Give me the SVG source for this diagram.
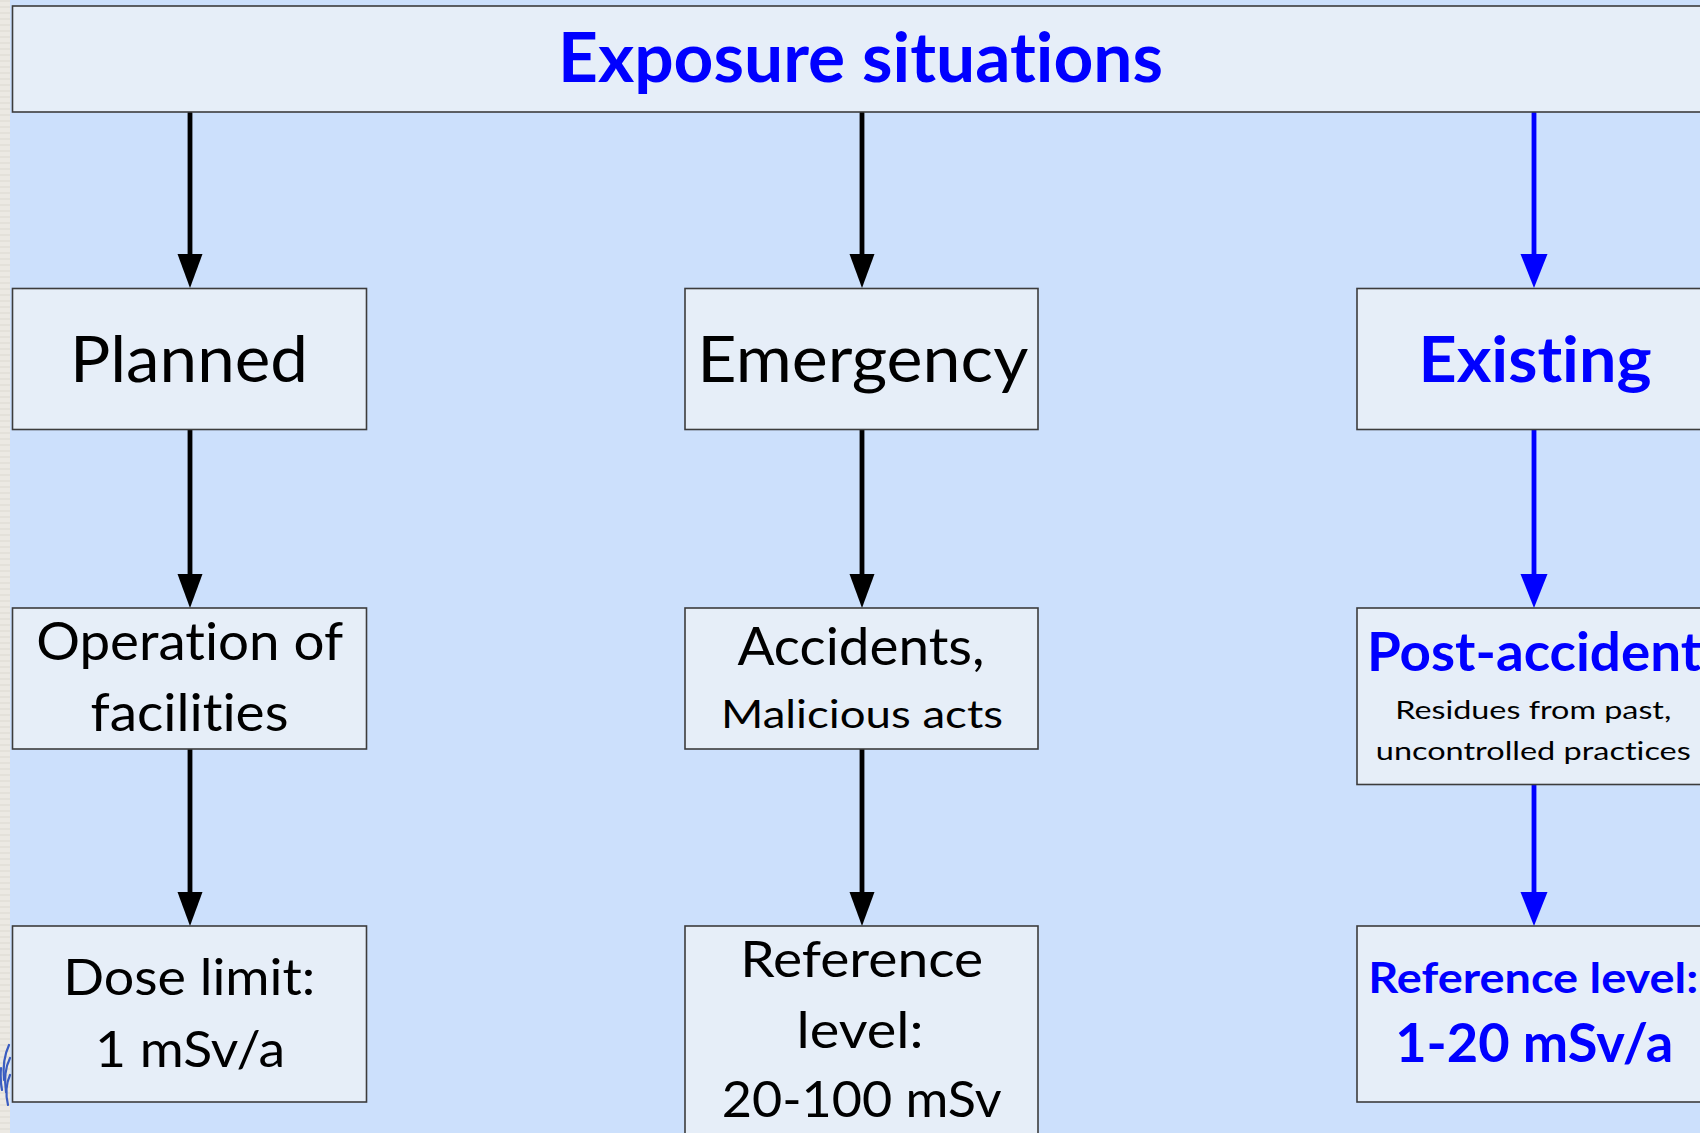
<svg xmlns="http://www.w3.org/2000/svg" width="1700" height="1133" viewBox="0 0 1700 1133">
  <style>
    .box { fill: #e6eef8; stroke: #3c3c3c; stroke-width: 1.6; }
    .t { font-family: Lato, "Open Sans", "Liberation Sans", sans-serif; text-anchor: middle; font-variant-ligatures: none; font-feature-settings: "liga" 0, "clig" 0, "dlig" 0; }
    .blk { fill: #000000; font-weight: 400; }
    .blu { fill: #0000ff; font-weight: 700; }
    .cb { stroke: #000000; stroke-width: 4.8; stroke-linecap: round; fill: none; }
    .cu { stroke: #0000ff; stroke-width: 4.8; stroke-linecap: round; fill: none; }
  </style>
  <defs>
    <marker id="ahB" markerUnits="userSpaceOnUse" markerWidth="35" markerHeight="26" viewBox="0 0 35 26" refX="14" refY="13" orient="auto">
      <path d="M0,0.5 L34,13 L0,25.5 Z" fill="#000000"/>
    </marker>
    <marker id="ahU" markerUnits="userSpaceOnUse" markerWidth="35" markerHeight="28" viewBox="0 0 35 28" refX="14" refY="14" orient="auto">
      <path d="M0,0.5 L34,14 L0,27.5 Z" fill="#0000ff"/>
    </marker>
    <pattern id="strip" width="10" height="6" patternUnits="userSpaceOnUse">
      <rect width="10" height="6" fill="#ece9e3"/>
      <rect y="0" width="10" height="2" fill="#e4e1da"/>
    </pattern>
  </defs>

  <!-- background -->
  <rect x="0" y="0" width="1700" height="1133" fill="#cce0fc"/>
  <rect x="0" y="0" width="10" height="1133" fill="url(#strip)"/>
  <g id="logo-fragment" fill="none" stroke="#3a5cc0" stroke-width="2.2" stroke-linecap="round">
    <path d="M9,1045 Q2,1060 4,1080"/>
    <path d="M10,1058 Q3,1072 6,1092"/>
    <path d="M10,1075 Q4,1088 8,1105"/>
    <path d="M1,1068 Q0,1080 2,1090"/>
  </g>

  <!-- connectors -->
  <g id="connectors">
    <line class="cb" x1="190" y1="113" x2="190" y2="268" marker-end="url(#ahB)"/>
    <line class="cb" x1="862" y1="113" x2="862" y2="268" marker-end="url(#ahB)"/>
    <line class="cu" x1="1534" y1="113" x2="1534" y2="268" marker-end="url(#ahU)"/>

    <line class="cb" x1="190" y1="430" x2="190" y2="588" marker-end="url(#ahB)"/>
    <line class="cb" x1="862" y1="430" x2="862" y2="588" marker-end="url(#ahB)"/>
    <line class="cu" x1="1534" y1="430" x2="1534" y2="588" marker-end="url(#ahU)"/>

    <line class="cb" x1="190" y1="749" x2="190" y2="906" marker-end="url(#ahB)"/>
    <line class="cb" x1="862" y1="749" x2="862" y2="906" marker-end="url(#ahB)"/>
    <line class="cu" x1="1534" y1="785" x2="1534" y2="906" marker-end="url(#ahU)"/>
  </g>

  <!-- title -->
  <g id="node-exposure-situations">
    <rect class="box" x="12.5" y="6" width="1700" height="106"/>
    <text class="t blu" x="860.5" y="82" font-size="68" textLength="605" lengthAdjust="spacingAndGlyphs">Exposure situations</text>
  </g>

  <!-- row 1 -->
  <g id="node-planned">
    <rect class="box" x="12.5" y="288.5" width="354" height="141"/>
    <text class="t blk" x="189" y="381.5" font-size="64" textLength="238" lengthAdjust="spacingAndGlyphs">Planned</text>
  </g>
  <g id="node-emergency">
    <rect class="box" x="685" y="288.5" width="353" height="141"/>
    <text class="t blk" x="862.8" y="381.5" font-size="64" textLength="331" lengthAdjust="spacingAndGlyphs">Emergency</text>
  </g>
  <g id="node-existing">
    <rect class="box" x="1357" y="288.5" width="360" height="141"/>
    <text class="t blu" x="1535" y="381.5" font-size="64" textLength="233" lengthAdjust="spacingAndGlyphs">Existing</text>
  </g>

  <!-- row 2 -->
  <g id="node-operation">
    <rect class="box" x="12.5" y="608" width="354" height="141"/>
    <text class="t blk" x="189.7" y="660" font-size="53" textLength="307" lengthAdjust="spacingAndGlyphs">Operation of</text>
    <text class="t blk" x="189.5" y="730.7" font-size="53" textLength="198" lengthAdjust="spacingAndGlyphs">facilities</text>
  </g>
  <g id="node-accidents">
    <rect class="box" x="685" y="608" width="353" height="141"/>
    <text class="t blk" x="861" y="665" font-size="53" textLength="247" lengthAdjust="spacingAndGlyphs">Accidents,</text>
    <text class="t blk" x="862" y="728.3" font-size="38" textLength="282" lengthAdjust="spacingAndGlyphs">Malicious acts</text>
  </g>
  <g id="node-post-accident">
    <rect class="box" x="1357" y="608" width="360" height="176.5"/>
    <text class="t blu" x="1534" y="670.7" font-size="53" textLength="334" lengthAdjust="spacingAndGlyphs">Post-accident</text>
    <text class="t blk" x="1533.3" y="719.3" font-size="25.5" textLength="276" lengthAdjust="spacingAndGlyphs">Residues from past,</text>
    <text class="t blk" x="1533.3" y="760" font-size="25.5" textLength="315" lengthAdjust="spacingAndGlyphs">uncontrolled practices</text>
  </g>

  <!-- row 3 -->
  <g id="node-dose-limit">
    <rect class="box" x="12.5" y="926" width="354" height="176"/>
    <text class="t blk" x="189.2" y="995" font-size="51" textLength="252" lengthAdjust="spacingAndGlyphs">Dose limit:</text>
    <text class="t blk" x="190" y="1066.7" font-size="51" textLength="190" lengthAdjust="spacingAndGlyphs">1 mSv/a</text>
  </g>
  <g id="node-reference-emergency">
    <rect class="box" x="685" y="926" width="353" height="230"/>
    <text class="t blk" x="861.7" y="976.7" font-size="50" textLength="243" lengthAdjust="spacingAndGlyphs">Reference</text>
    <text class="t blk" x="860" y="1048.3" font-size="50" textLength="127" lengthAdjust="spacingAndGlyphs">level:</text>
    <text class="t blk" x="861.7" y="1116.7" font-size="50" textLength="280" lengthAdjust="spacingAndGlyphs">20-100 mSv</text>
  </g>
  <g id="node-reference-existing">
    <rect class="box" x="1357" y="926" width="360" height="176"/>
    <text class="t blu" x="1533.3" y="993.3" font-size="42" textLength="330" lengthAdjust="spacingAndGlyphs">Reference level:</text>
    <text class="t blu" x="1534.2" y="1062.3" font-size="54" textLength="278" lengthAdjust="spacingAndGlyphs">1-20 mSv/a</text>
  </g>
</svg>
